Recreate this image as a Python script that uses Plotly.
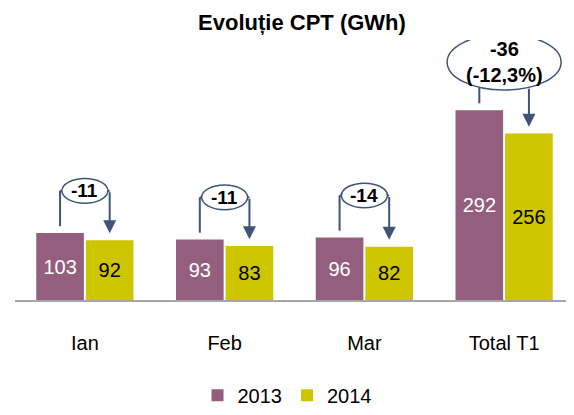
import math
import plotly.graph_objects as go

# ---------------- data ----------------
categories = ["Ian", "Feb", "Mar", "Total T1"]
values_2013 = [103, 93, 96, 292]
values_2014 = [92, 83, 82, 256]
diff_labels = ["-11", "-11", "-14", "-36<br>(-12,3%)"]
series_names = ["2013", "2014"]
chart_title = "Evoluție CPT (GWh)"

# ---------------- style / geometry ----------------
PAGE = 8                              # default body margin of the html page
W, H = 574 - PAGE, 415 - PAGE
M_L, M_R, M_T, M_B = 15 - PAGE, 0, 40 - PAGE, 110
Y_MAX = 400
plot_w = W - M_L - M_R
plot_h = H - M_T - M_B
UY = Y_MAX / plot_h                 # data units per pixel (y)
UX = len(categories) / plot_w       # category units per pixel (x)

FONT = "Liberation Sans, Arial, sans-serif"
C13 = "#945F7E"
C14 = "#CDC500"
CA = "#3E5577"
BARGAP = 0.29
OFF = (1 - BARGAP) / 4              # bar center offset from category center

fig = go.Figure()
fig.add_trace(go.Bar(
    x=categories, y=values_2013, name=series_names[0],
    marker=dict(color=C13, line=dict(width=0)),
    texttemplate="%{y}", textposition="inside", insidetextanchor="middle",
    textfont=dict(size=20, color="white", family=FONT),
    hoverinfo="skip", cliponaxis=False,
))
fig.add_trace(go.Bar(
    x=categories, y=values_2014, name=series_names[1],
    marker=dict(color=C14, line=dict(width=0)),
    texttemplate="%{y}", textposition="inside", insidetextanchor="middle",
    textfont=dict(size=20, color="black", family=FONT),
    hoverinfo="skip", cliponaxis=False,
))

line_shapes = []
ellipse_shapes = []
annotations = []
for i, (cat, a, b, lab) in enumerate(zip(categories, values_2013, values_2014, diff_labels)):
    xl, xr = i - OFF, i + OFF
    is_total = cat.startswith("Total")
    if not is_total:
        level = a + 43 * UY
        hw, hh = 23 * UX, 12.5 * UY
        cy = level
        line_shapes.append(dict(type="line", xref="x", yref="y", x0=xl, x1=xl,
                                y0=a + 7 * UY, y1=level, line=dict(color=CA, width=2)))
        line_shapes.append(dict(type="line", xref="x", yref="y", x0=xl, x1=i - hw + 0.005,
                                y0=level, y1=level, line=dict(color=CA, width=2)))
        line_shapes.append(dict(type="line", xref="x", yref="y", x0=i + hw - 0.005, x1=xr,
                                y0=level, y1=level, line=dict(color=CA, width=2)))
        arrow_start = level
        fsize = 19
    else:
        cy = a + 49 * UY
        hw_px, hh_px = 57, 28.5
        hw, hh = hw_px * UX, hh_px * UY
        off_px = OFF / UX
        dy_px = hh_px * math.sqrt(max(0.0, 1 - (off_px / hw_px) ** 2))
        line_shapes.append(dict(type="line", xref="x", yref="y", x0=xl, x1=xl,
                                y0=a + 7 * UY, y1=cy, line=dict(color=CA, width=2)))
        arrow_start = cy - dy_px * UY
        fsize = 20
    ellipse_shapes.append(dict(type="circle", xref="x", yref="y",
                               x0=i - hw, x1=i + hw, y0=cy - hh, y1=cy + hh,
                               line=dict(color=CA, width=1.5), fillcolor="white"))
    annotations.append(dict(x=xr, y=b + 7 * UY, ax=xr, ay=arrow_start,
                            xref="x", yref="y", axref="x", ayref="y",
                            text="", showarrow=True, arrowhead=2, arrowsize=1.3,
                            arrowwidth=2, arrowcolor=CA, standoff=0))
    annotations.append(dict(x=i, y=cy, xref="x", yref="y", text="<b>" + lab + "</b>",
                            showarrow=False, font=dict(size=fsize, color="black", family=FONT),
                            xanchor="center", yanchor="middle"))

fig.update_layout(
    width=W, height=H,
    margin=dict(l=M_L, r=M_R, t=M_T, b=M_B, pad=0),
    paper_bgcolor="white", plot_bgcolor="white",
    barmode="group", bargap=BARGAP, bargroupgap=0.04,
    font=dict(family=FONT, color="black"),
    title=dict(text="<b>" + chart_title + "</b>", font=dict(size=22, color="black", family=FONT),
               x=(302 - PAGE) / W, xref="container", xanchor="center",
               y=1 - (22 - PAGE) / H, yref="container", yanchor="middle"),
    xaxis=dict(type="category", range=[-0.5, len(categories) - 0.5],
               showline=True, linecolor="#A6A6A6", linewidth=2,
               ticks="", showgrid=False, zeroline=False,
               tickfont=dict(size=20, color="black", family=FONT),
               ticklabelstandoff=24, fixedrange=True),
    yaxis=dict(range=[0, Y_MAX], visible=False, fixedrange=True),
    showlegend=True,
    legend=dict(orientation="h", x=(287 - PAGE - M_L) / plot_w, xanchor="center",
                y=(plot_h + M_T - (402 - PAGE)) / plot_h, yanchor="middle",
                font=dict(size=20, color="black", family=FONT),
                bgcolor="rgba(0,0,0,0)"),
    shapes=line_shapes + ellipse_shapes,
    annotations=annotations,
)

fig.write_html("out.html")
